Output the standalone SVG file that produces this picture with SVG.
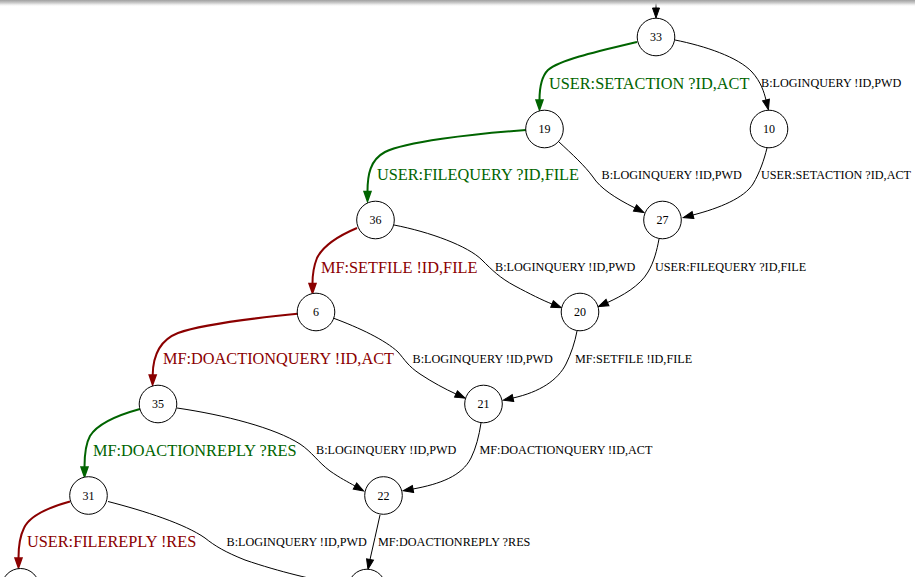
<svg xmlns="http://www.w3.org/2000/svg" width="915" height="577" viewBox="0 0 915 577">
  <style>
    .node circle { fill: #ffffff; stroke: #000000; stroke-width: 1; }
    .node text { font-family: "Liberation Serif", "Times New Roman", serif; font-size: 12px; text-anchor: middle; fill: #000000; }
    .edge { fill: none; stroke: #000000; stroke-width: 1; marker-end: url(#arr); }
    .edge.ok { stroke: #006400; stroke-width: 2; marker-end: url(#arr-ok); }
    .edge.bad { stroke: #8b0000; stroke-width: 2; marker-end: url(#arr-bad); }
    .lbl { font-family: "Liberation Serif", "Times New Roman", serif; font-size: 12.2px; fill: #000000; }
    .lbl.ok { font-size: 16.3px; fill: #006400; }
    .lbl.bad { font-size: 16.3px; fill: #8b0000; }
  </style>
  <defs>
    <marker id="arr" markerUnits="userSpaceOnUse" markerWidth="12" markerHeight="9" refX="0" refY="3.5" orient="auto" overflow="visible">
      <path d="M0,0 L10,3.5 L0,7 Z" fill="#000000" stroke="#000000" stroke-width="1"/>
    </marker>
    <marker id="arr-ok" markerUnits="userSpaceOnUse" markerWidth="12" markerHeight="9" refX="0" refY="3.5" orient="auto" overflow="visible">
      <path d="M0,0 L10,3.5 L0,7 Z" fill="#006400" stroke="#006400" stroke-width="1.5"/>
    </marker>
    <marker id="arr-bad" markerUnits="userSpaceOnUse" markerWidth="12" markerHeight="9" refX="0" refY="3.5" orient="auto" overflow="visible">
      <path d="M0,0 L10,3.5 L0,7 Z" fill="#8b0000" stroke="#8b0000" stroke-width="1.5"/>
    </marker>
    <linearGradient id="topShade" x1="0" y1="0" x2="0" y2="1">
      <stop offset="0" stop-color="#a0a0a0"/>
      <stop offset="0.45" stop-color="#cfcfcf"/>
      <stop offset="1" stop-color="#ffffff" stop-opacity="0"/>
    </linearGradient>
  </defs>

  <rect x="0" y="0" width="915" height="577" fill="#ffffff"/>

  <g id="edges">
    <path class="edge" d="M656,0 L656,8"/>
    <path class="edge ok" d="M637,42 C595,52 560,60 548,70 C541,77 539.5,88 539.5,100"/>
    <path class="edge" d="M675,40 C705,46 738,57 752,72 C761,82 764,92 766,100"/>
    <path class="edge" d="M559,142 C572,154 585,166 593,177 C600,188 615,198 635,208"/>
    <path class="edge" d="M767,148 C764,160 760,172 753,184 C744,198 720,208 693,215"/>
    <path class="edge ok" d="M526,130 C470,134 405,142 385,152 C370,160 367.5,175 367.5,191.5"/>
    <path class="edge bad" d="M357,228 C338,236 323,246 317,258 C313,268 312.5,276 312.5,283.5"/>
    <path class="edge" d="M394,225 C430,232 468,246 482,260 C492,270 500,278 515,286 C530,294 542,300 552,304"/>
    <path class="edge" d="M659,239 C657,250 654,262 648,272 C640,286 622,296 607.5,302.5"/>
    <path class="edge" d="M333,318 C360,328 385,340 398,352 C405,360 408,366 420,374 C432,382 445,389 456,394"/>
    <path class="edge" d="M577,331 C575,342 571,354 566,364 C558,380 540,392 513,398"/>
    <path class="edge bad" d="M300,313.5 C255,318 200,325 178,333 C160,340 153,355 152.7,375"/>
    <path class="edge ok" d="M140,409 C118,415 98,423 90,436 C85,445 84.5,456 84.5,467"/>
    <path class="edge" d="M177,408 C225,415 275,428 300,444 C312,452 318,462 330,471 C340,478 348,482 355,486"/>
    <path class="edge" d="M481,423 C479,436 476,448 471,458 C462,476 440,484 413,489"/>
    <path class="edge bad" d="M70,501.5 C50,507 30,515 24,528 C19,538 18.5,550 18.5,558"/>
    <path class="edge" d="M108,501.5 C145,511 185,524 205,538 C215,546 225,552 245,560 C280,572 315,580 338,584"/>
    <path class="edge" d="M380,515 C377,530 373,545 370,559.5"/>

    <text class="lbl ok" x="549" y="88.7">USER:SETACTION ?ID,ACT</text>
    <text class="lbl" x="761" y="87.3">B:LOGINQUERY !ID,PWD</text>
    <text class="lbl ok" x="377" y="180">USER:FILEQUERY ?ID,FILE</text>
    <text class="lbl" x="601.5" y="179.3">B:LOGINQUERY !ID,PWD</text>
    <text class="lbl" x="761" y="179.3">USER:SETACTION ?ID,ACT</text>
    <text class="lbl bad" x="321" y="272.5">MF:SETFILE !ID,FILE</text>
    <text class="lbl" x="495" y="271.3">B:LOGINQUERY !ID,PWD</text>
    <text class="lbl" x="655" y="271.3">USER:FILEQUERY ?ID,FILE</text>
    <text class="lbl bad" x="163" y="364">MF:DOACTIONQUERY !ID,ACT</text>
    <text class="lbl" x="412.5" y="362.6">B:LOGINQUERY !ID,PWD</text>
    <text class="lbl" x="575" y="362.6">MF:SETFILE !ID,FILE</text>
    <text class="lbl ok" x="93" y="455.7">MF:DOACTIONREPLY ?RES</text>
    <text class="lbl" x="316" y="454.3">B:LOGINQUERY !ID,PWD</text>
    <text class="lbl" x="479.5" y="454.3">MF:DOACTIONQUERY !ID,ACT</text>
    <text class="lbl bad" x="27" y="547.4">USER:FILEREPLY !RES</text>
    <text class="lbl" x="226.5" y="546">B:LOGINQUERY !ID,PWD</text>
    <text class="lbl" x="378" y="546">MF:DOACTIONREPLY ?RES</text>
  </g>

  <g id="n33" class="node"><circle cx="656" cy="37" r="18.8"/><text x="656" y="41">33</text></g>
  <g id="n19" class="node"><circle cx="544.5" cy="129" r="18.8"/><text x="544.5" y="133">19</text></g>
  <g id="n10" class="node"><circle cx="769" cy="129" r="18.8"/><text x="769" y="133">10</text></g>
  <g id="n27" class="node"><circle cx="662.5" cy="220" r="18.8"/><text x="662.5" y="224">27</text></g>
  <g id="n36" class="node"><circle cx="375.5" cy="220" r="18.8"/><text x="375.5" y="224">36</text></g>
  <g id="n20" class="node"><circle cx="580" cy="312" r="18.8"/><text x="580" y="316">20</text></g>
  <g id="n6" class="node"><circle cx="316" cy="312" r="18.8"/><text x="316" y="316">6</text></g>
  <g id="n21" class="node"><circle cx="483.5" cy="404" r="18.8"/><text x="483.5" y="408">21</text></g>
  <g id="n35" class="node"><circle cx="158" cy="404" r="18.8"/><text x="158" y="408">35</text></g>
  <g id="n22" class="node"><circle cx="383.5" cy="495.5" r="18.8"/><text x="383.5" y="499.5">22</text></g>
  <g id="n31" class="node"><circle cx="88.5" cy="495.5" r="18.8"/><text x="88.5" y="499.5">31</text></g>
  <g id="nBL" class="node"><circle cx="20.5" cy="587.3" r="18.8"/></g>
  <g id="nBR" class="node"><circle cx="367" cy="588" r="18.8"/></g>

  <rect x="0" y="0" width="915" height="7" fill="url(#topShade)"/>
</svg>
